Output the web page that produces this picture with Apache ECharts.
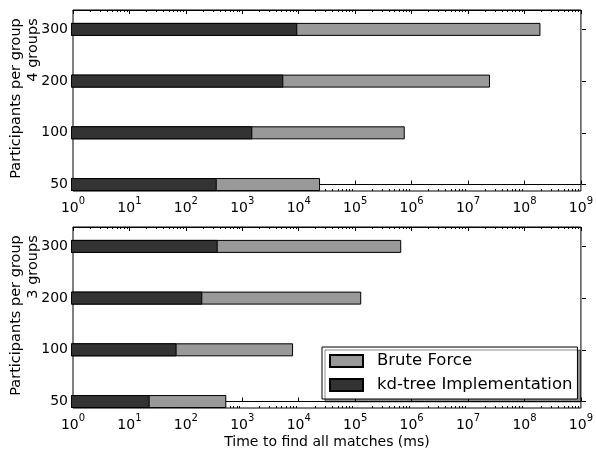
<!DOCTYPE html>
<html>
<head>
<meta charset="utf-8">
<script src="https://cdn.jsdelivr.net/npm/echarts@6/dist/echarts.min.js"></script>
<style>html,body{margin:0;padding:0;background:#fff}#c{width:596px;height:450px}</style>
</head>
<body>
<div id="c"></div>
<script>
// ---- data ----
const categories = ['50', '100', '200', '300'];
const groupLabels = ['4 groups', '3 groups'];
const seriesNames = ['Brute Force', 'kd-tree Implementation'];
const bruteForce4 = [22500, 680000, 21000000, 160000000];
const kdTree4 = [352, 1475, 5130, 9000];
const bruteForce3 = [518, 7600, 118000, 590000];
const kdTree3 = [23.7, 70, 197, 366];
const xMin = 1, xMax = 1e9;
const yLabel = 'Participants per group';
const xLabel = 'Time to find all matches (ms)';

// ---- layout ----
const LEFT = 71, RIGHT = 10, FH = 181;
const frameTops = [10, 227];
const unit = FH / 3.5;
const FONT = 'DejaVu Sans';

const minorTicks = [];
for (let n = 0; n < 9; n++) for (let k = 2; k <= 9; k++) minorTicks.push(n + Math.log10(k));

const grids = [], xAxes = [], yAxes = [], series = [];
const panels = [[bruteForce4, kdTree4], [bruteForce3, kdTree3]];

panels.forEach((p, i) => {
  const ft = frameTops[i];
  const barTop = ft + 0.375 * unit - unit / 2;
  const gFrame = grids.length;
  grids.push({left: LEFT, right: RIGHT, top: ft, height: FH, show: true, borderColor: '#000', borderWidth: 1, backgroundColor: 'transparent', z: 0});
  const gBars = grids.length;
  grids.push({left: LEFT, right: RIGHT, top: barTop, height: unit * 4});

  const isBottom = i === 1;
  xAxes.push({gridIndex: gFrame, type: 'log', logBase: 10, min: xMin, max: xMax, position: 'bottom', z: 1,
    axisLine: {show: true, lineStyle: {color: '#000', width: 1}},
    axisTick: {show: true, inside: true, length: 4, lineStyle: {color: '#000'}},
    splitLine: {show: false},
    axisLabel: {show: true, margin: 5, color: '#000', fontFamily: FONT,
      formatter: v => '{b|10}{s|' + Math.round(Math.log10(v)) + '}',
      rich: {b: {fontSize: 14, fontFamily: FONT, color: '#000', lineHeight: 19, verticalAlign: 'bottom'},
             s: {fontSize: 10, fontFamily: FONT, color: '#000', lineHeight: 19, verticalAlign: 'top'}}},
    name: isBottom ? xLabel : '', nameLocation: 'middle', nameGap: 27,
    nameTextStyle: {fontSize: 14, fontFamily: FONT, color: '#000'}
  });
  xAxes.push({gridIndex: gFrame, type: 'log', logBase: 10, min: xMin, max: xMax, position: 'top', z: 1,
    axisLine: {show: true, lineStyle: {color: '#000', width: 1}},
    axisTick: {show: true, inside: true, length: 4, lineStyle: {color: '#000'}},
    splitLine: {show: false}, axisLabel: {show: false}});
  ['bottom', 'top'].forEach(pos => xAxes.push({gridIndex: gFrame, type: 'value', min: 0, max: 9, position: pos, z: 1,
    axisLine: {show: false}, splitLine: {show: false}, axisLabel: {show: false},
    axisTick: {show: true, inside: true, length: 2, customValues: minorTicks, lineStyle: {color: '#000'}}}));
  const xBars = xAxes.length;
  xAxes.push({gridIndex: gBars, type: 'log', logBase: 10, min: xMin, max: xMax, show: false});

  yAxes.push({gridIndex: gFrame, type: 'value', min: -0.125, max: 3.375, position: 'left',
    axisLine: {show: false}, axisTick: {show: false}, axisLabel: {show: false}, splitLine: {show: false},
    name: '{a|' + yLabel + '}\n{b|' + groupLabels[i] + '}', nameLocation: 'middle', nameGap: 31, nameRotate: 90,
    nameTextStyle: {fontSize: 14.5, fontFamily: FONT, color: '#000', lineHeight: 17, padding: [0, 0, 0, 4],
      rich: {a: {fontSize: 14.5, fontFamily: FONT, color: '#000', lineHeight: 17},
             b: {fontSize: 14.5, fontFamily: FONT, color: '#000', lineHeight: 17, align: 'right'}}}});
  const yBars = yAxes.length;
  yAxes.push({gridIndex: gBars, type: 'category', data: categories, position: 'left', z: 1,
    axisLine: {show: false}, splitLine: {show: false},
    axisTick: {show: true, inside: true, alignWithLabel: true, length: 4, lineStyle: {color: '#000'}},
    axisLabel: {show: true, margin: 3, fontSize: 14, fontFamily: FONT, color: '#000'}});
  yAxes.push({gridIndex: gBars, type: 'category', data: categories, position: 'right', z: 1,
    axisLine: {show: false}, splitLine: {show: false}, axisLabel: {show: false},
    axisTick: {show: true, inside: true, alignWithLabel: true, length: 4, lineStyle: {color: '#000'}}});

  series.push({name: seriesNames[0], type: 'bar', xAxisIndex: xBars, yAxisIndex: yBars, data: p[0], z: 3,
    barWidth: 13, barGap: '-100%', itemStyle: {color: '#999999', borderColor: '#000', borderWidth: 1}, silent: true, animation: false});
  series.push({name: seriesNames[1], type: 'bar', xAxisIndex: xBars, yAxisIndex: yBars, data: p[1], z: 3,
    barWidth: 13, barGap: '-100%', itemStyle: {color: '#333333', borderColor: '#000', borderWidth: 1}, silent: true, animation: false});
});

const chart = echarts.init(document.getElementById('c'), null, {renderer: 'canvas'});
chart.setOption({
  animation: false,
  textStyle: {fontFamily: FONT},
  grid: grids, xAxis: xAxes, yAxis: yAxes, series: series,
  legend: {data: seriesNames, orient: 'vertical', left: 322, top: 347, z: 10,
    itemWidth: 33, itemHeight: 12, itemGap: 6, padding: [5, 5, 5, 7],
    icon: 'rect', backgroundColor: '#fff', borderColor: '#000', borderWidth: 1,
    shadowColor: 'rgba(0,0,0,0.45)', shadowBlur: 0, shadowOffsetX: 3, shadowOffsetY: 3,
    textStyle: {fontSize: 16.5, fontFamily: FONT, color: '#000', lineHeight: 18, padding: [0, 0, 0, 9]},
    selectedMode: false}
});
</script>
</body>
</html>
